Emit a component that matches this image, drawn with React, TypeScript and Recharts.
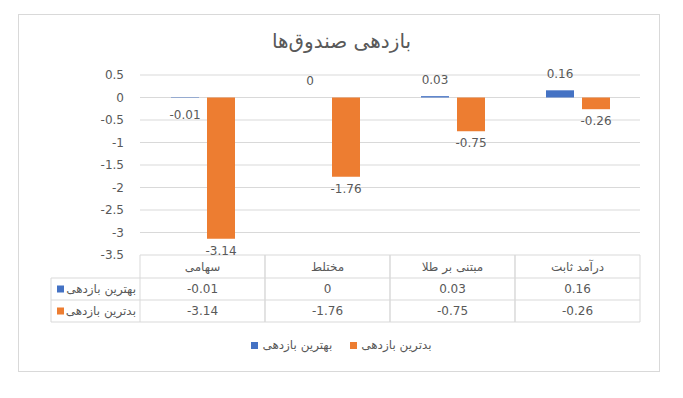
import { Bar, BarChart, CartesianGrid, LabelList, Legend, XAxis, YAxis } from "recharts";

const categories = ["سهامی", "مختلط", "مبتنی بر طلا", "درآمد ثابت"];
const bestReturn = [-0.01, 0, 0.03, 0.16];
const worstReturn = [-3.14, -1.76, -0.75, -0.26];
const yTicks = [0.5, 0, -0.5, -1, -1.5, -2, -2.5, -3, -3.5];

const SERIES = [
  { key: "best", name: "بهترین بازدهی", color: "#4472C4", values: bestReturn },
  { key: "worst", name: "بدترین بازدهی", color: "#ED7D31", values: worstReturn },
];

const W = 683;
const H = 398;
const FONT = "'DejaVu Sans', sans-serif";
const TEXT = "#595959";
const GRID = "#D9D9D9";
const M = { top: 75, right: 43, bottom: 142, left: 74 };
const Y_W = 66;
const COL_W = (W - M.left - Y_W - M.right) / categories.length;
const HEAD_W = 89;
const ROWS = [255, 278, 300, 322];

const data = categories.map((c, i) => ({
  name: c,
  best: bestReturn[i],
  worst: worstReturn[i],
}));

// برچسب بیرون انتهای ستون: مثبت بالا، منفی پایین
const OutsideLabel = (props: any) => {
  const { x, y, width, height, value } = props;
  const top = Math.min(y, y + height);
  const bottom = Math.max(y, y + height);
  const cy = value < 0 ? Math.max(bottom + 12, top + 17) : top - 16;
  return (
    <text
      x={x + width / 2}
      y={cy}
      textAnchor="middle"
      dominantBaseline="central"
      fontFamily={FONT}
      fontSize={12}
      fill={TEXT}
    >
      {value}
    </text>
  );
};

const TableTick = (props: any) => {
  const { x, index } = props;
  const left = x - COL_W / 2;
  const right = x + COL_W / 2;
  const [r0, r1, r2, r3] = ROWS;
  const txt = (tx: number, ty: number, s: string | number, anchor = "middle") => (
    <text
      x={tx}
      y={ty}
      textAnchor={anchor}
      dominantBaseline="central"
      fontFamily={FONT}
      fontSize={12}
      fill={TEXT}
    >
      {s}
    </text>
  );
  return (
    <g>
      <line x1={left} x2={left} y1={r0} y2={r3} stroke={GRID} />
      <line x1={right} x2={right} y1={r0} y2={r3} stroke={GRID} />
      <line x1={left} x2={right} y1={r1} y2={r1} stroke={GRID} />
      <line x1={left} x2={right} y1={r2} y2={r2} stroke={GRID} />
      <line x1={left} x2={right} y1={r3} y2={r3} stroke={GRID} />
      {txt(x, (r0 + r1) / 2, categories[index])}
      {txt(x, (r1 + r2) / 2, bestReturn[index])}
      {txt(x, (r2 + r3) / 2, worstReturn[index])}
      {index === 0 && (
        <g>
          <line x1={left - HEAD_W} x2={left - HEAD_W} y1={r1} y2={r3} stroke={GRID} />
          <line x1={left - HEAD_W} x2={left} y1={r1} y2={r1} stroke={GRID} />
          <line x1={left - HEAD_W} x2={left} y1={r2} y2={r2} stroke={GRID} />
          <line x1={left - HEAD_W} x2={left} y1={r3} y2={r3} stroke={GRID} />
          {SERIES.map((s, i) => {
            const cy = (ROWS[i + 1] + ROWS[i + 2]) / 2;
            return (
              <g key={s.key}>
                <rect x={left - HEAD_W + 6} y={cy - 3.5} width={7} height={7} fill={s.color} />
                {txt(left - 4, cy, s.name, "end")}
              </g>
            );
          })}
        </g>
      )}
    </g>
  );
};

const LegendContent = () => (
  <div
    style={{
      display: "flex",
      justifyContent: "center",
      gap: 18,
      fontFamily: FONT,
      fontSize: 12,
      color: TEXT,
    }}
  >
    {SERIES.map((s) => (
      <div key={s.key} style={{ display: "flex", alignItems: "center", gap: 4 }}>
        <span style={{ width: 7, height: 7, background: s.color, display: "inline-block" }} />
        <span>{s.name}</span>
      </div>
    ))}
  </div>
);

export default function App() {
  return (
    <div style={{ position: "absolute", left: 0, top: 0, width: W, height: H, background: "#fff" }}>
      <div
        style={{
          position: "absolute",
          left: 18,
          top: 14,
          width: 640,
          height: 356,
          border: `1px solid ${GRID}`,
          pointerEvents: "none",
        }}
      />
      <div
        style={{
          position: "absolute",
          top: 29,
          left: 0,
          width: W,
          textAlign: "center",
          fontFamily: FONT,
          fontSize: 20,
          color: TEXT,
        }}
      >
        بازدهی صندوق‌ها
      </div>
      <BarChart width={W} height={H} data={data} margin={M} barSize={28} barGap={8}>
        <CartesianGrid vertical={false} stroke={GRID} />
        <XAxis
          dataKey="name"
          height={1}
          axisLine={false}
          tickLine={false}
          tickSize={0}
          tickMargin={0}
          interval={0}
          tick={<TableTick />}
        />
        <YAxis
          domain={[-3.5, 0.5]}
          ticks={yTicks}
          interval={0}
          width={Y_W}
          axisLine={false}
          tickLine={false}
          tick={{ fontFamily: FONT, fontSize: 12, fill: TEXT }}
          tickMargin={10}
        />
        <Legend
          layout="horizontal"
          verticalAlign="middle"
          content={<LegendContent />}
          wrapperStyle={{ top: 338, left: 0, width: W }}
        />
        {SERIES.map((s) => (
          <Bar
            key={s.key}
            dataKey={s.key}
            name={s.name}
            fill={s.color}
            minPointSize={0.01}
            isAnimationActive={false}
          >
            <LabelList dataKey={s.key} content={<OutsideLabel />} />
          </Bar>
        ))}
      </BarChart>
    </div>
  );
}
